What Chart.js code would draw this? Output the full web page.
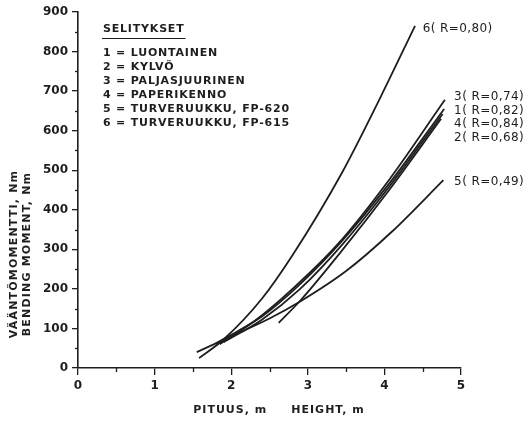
<!DOCTYPE html>
<html>
<head>
<meta charset="utf-8">
<script src="https://cdn.jsdelivr.net/npm/chart.js@4"></script>
<style>
  body { margin: 0; background: #fff; }
</style>
</head>
<body>
<canvas id="chart" width="526" height="422"></canvas>
<script>
// Akselit
const xTicks = [0, 1, 2, 3, 4, 5];
const yTicks = [0, 100, 200, 300, 400, 500, 600, 700, 800, 900];

// Selitykset
const legendTitle = 'SELITYKSET';
const legendLines = [
    '1 = LUONTAINEN',
    '2 = KYLVÖ',
    '3 = PALJASJUURINEN',
    '4 = PAPERIKENNO',
    '5 = TURVERUUKKU, FP-620',
    '6 = TURVERUUKKU, FP-615'
];

// Käyrien numerot ja korrelaatiot
const curveIds = ['1', '2', '3', '4', '5', '6'];
const curveR = ['0,82', '0,68', '0,74', '0,84', '0,49', '0,80'];

// Käyrät luettu kuvasta (pituus m, momentti Nm)
const heights1 = [1.80, 2.10, 2.40, 2.90, 3.45, 4.07, 4.78];
const moments1 = [62, 95, 130, 212, 322, 468, 655];
const heights2 = [2.62, 2.90, 3.45, 4.07, 4.74];
const moments2 = [114, 170, 298, 452, 630];
const heights3 = [1.85, 2.30, 2.80, 3.40, 4.07, 4.79];
const moments3 = [60, 118, 200, 315, 478, 678];
const heights4 = [1.90, 2.40, 2.90, 3.45, 4.07, 4.76];
const moments4 = [65, 122, 200, 312, 460, 642];
const heights5 = [1.55, 2.00, 2.50, 2.90, 3.50, 4.10, 4.77];
const moments5 = [40, 80, 125, 168, 245, 345, 475];
const heights6 = [1.58, 1.90, 2.40, 2.80, 3.45, 3.95, 4.40];
const moments6 = [25, 72, 175, 285, 495, 685, 865];

const allHeights = [heights1, heights2, heights3, heights4, heights5, heights6];
const allMoments = [moments1, moments2, moments3, moments4, moments5, moments6];

const INK = '#1e1e1e';

function toPoints(xs, ys) {
    return xs.map((x, i) => ({ x: x, y: ys[i] }));
}

const datasets = allHeights.map((hs, i) => ({
    label: curveIds[i],
    data: toPoints(hs, allMoments[i]),
    borderColor: INK,
    borderWidth: 1.8,
    pointRadius: 0,
    fill: false,
    cubicInterpolationMode: 'monotone'
}));

// Valkoinen tausta
const bgPlugin = {
    id: 'bg',
    beforeDraw(chart) {
        const ctx = chart.ctx;
        ctx.save();
        ctx.fillStyle = '#fff';
        ctx.fillRect(0, 0, chart.width, chart.height);
        ctx.restore();
    }
};

// Tekstit, pienet jakoviivat ja käyrien nimet
const annotatePlugin = {
    id: 'annotate',
    afterDraw(chart) {
        const ctx = chart.ctx;
        const xs = chart.scales.x;
        const ys = chart.scales.y;
        ctx.save();
        ctx.fillStyle = INK;
        ctx.strokeStyle = INK;

        // pienet jakoviivat
        ctx.lineWidth = 1.3;
        for (let v = 50; v < 900; v += 100) {
            const py = Math.round(ys.getPixelForValue(v)) + 0.5;
            ctx.beginPath();
            ctx.moveTo(xs.left - 3, py);
            ctx.lineTo(xs.left, py);
            ctx.stroke();
        }
        for (let v = 0.5; v < 5; v += 1) {
            const px = Math.round(xs.getPixelForValue(v)) + 0.5;
            ctx.beginPath();
            ctx.moveTo(px, ys.bottom);
            ctx.lineTo(px, ys.bottom + 4);
            ctx.stroke();
        }

        // selitykset
        if ('letterSpacing' in ctx) ctx.letterSpacing = '0.8px';
        ctx.font = 'bold 11px "DejaVu Sans"';
        ctx.textAlign = 'left';
        ctx.textBaseline = 'alphabetic';
        ctx.fillText(legendTitle, 103, 32);
        const tw = ctx.measureText(legendTitle).width;
        ctx.lineWidth = 1.2;
        ctx.beginPath();
        ctx.moveTo(102, 38.5);
        ctx.lineTo(104 + tw, 38.5);
        ctx.stroke();
        legendLines.forEach((t, i) => {
            ctx.fillText(t, 103, 56 + i * 14);
        });

        // käyrien nimet
        ctx.font = '12px "DejaVu Sans"';
        if ('letterSpacing' in ctx) ctx.letterSpacing = '0.4px';
        ctx.textBaseline = 'middle';
        const labelPos = {
            '6': [4.5, 858],
            '3': [4.91, 685],
            '1': [4.91, 650],
            '4': [4.91, 616],
            '2': [4.91, 582],
            '5': [4.91, 470]
        };
        curveIds.forEach((id, i) => {
            const p = labelPos[id];
            ctx.fillText(id + '( R=' + curveR[i] + ')', xs.getPixelForValue(p[0]), ys.getPixelForValue(p[1]));
        });

        // akselien nimet
        ctx.font = 'bold 11px "DejaVu Sans"';
        if ('letterSpacing' in ctx) ctx.letterSpacing = '1px';
        ctx.textAlign = 'center';
        ctx.fillText('PITUUS, m     HEIGHT, m', 279, 410);

        ctx.save();
        if ('letterSpacing' in ctx) ctx.letterSpacing = '1.2px';
        ctx.translate(14, 254);
        ctx.rotate(-Math.PI / 2);
        ctx.fillText('VÄÄNTÖMOMENTTI, Nm', 0, 0);
        ctx.fillText('BENDING MOMENT, Nm', 0, 13);
        ctx.restore();

        ctx.restore();
    }
};

new Chart(document.getElementById('chart'), {
    type: 'line',
    data: { datasets: datasets },
    plugins: [bgPlugin, annotatePlugin],
    options: {
        responsive: false,
        animation: false,
        layout: { padding: { left: 0, top: 12, right: 65, bottom: 0 } },
        plugins: {
            legend: { display: false },
            tooltip: { enabled: false }
        },
        scales: {
            x: {
                type: 'linear',
                min: 0,
                max: 5,
                afterFit(scale) { scale.height = 54; },
                afterBuildTicks(scale) { scale.ticks = xTicks.map(v => ({ value: v })); },
                border: { display: true, color: INK, width: 1.6 },
                grid: { drawOnChartArea: false, color: INK, tickLength: 7, lineWidth: 1.3 },
                ticks: {
                    color: INK,
                    padding: 4,
                    maxRotation: 0,
                    font: { family: 'DejaVu Sans', size: 12, weight: 'bold' }
                }
            },
            y: {
                type: 'linear',
                min: 0,
                max: 900,
                afterFit(scale) { scale.width = 78; },
                afterBuildTicks(scale) { scale.ticks = yTicks.map(v => ({ value: v })); },
                border: { display: true, color: INK, width: 1.6 },
                grid: { drawOnChartArea: false, color: INK, tickLength: 6, lineWidth: 1.3 },
                ticks: {
                    color: INK,
                    padding: 4,
                    font: { family: 'DejaVu Sans', size: 12, weight: 'bold' }
                }
            }
        }
    }
});
</script>
</body>
</html>
